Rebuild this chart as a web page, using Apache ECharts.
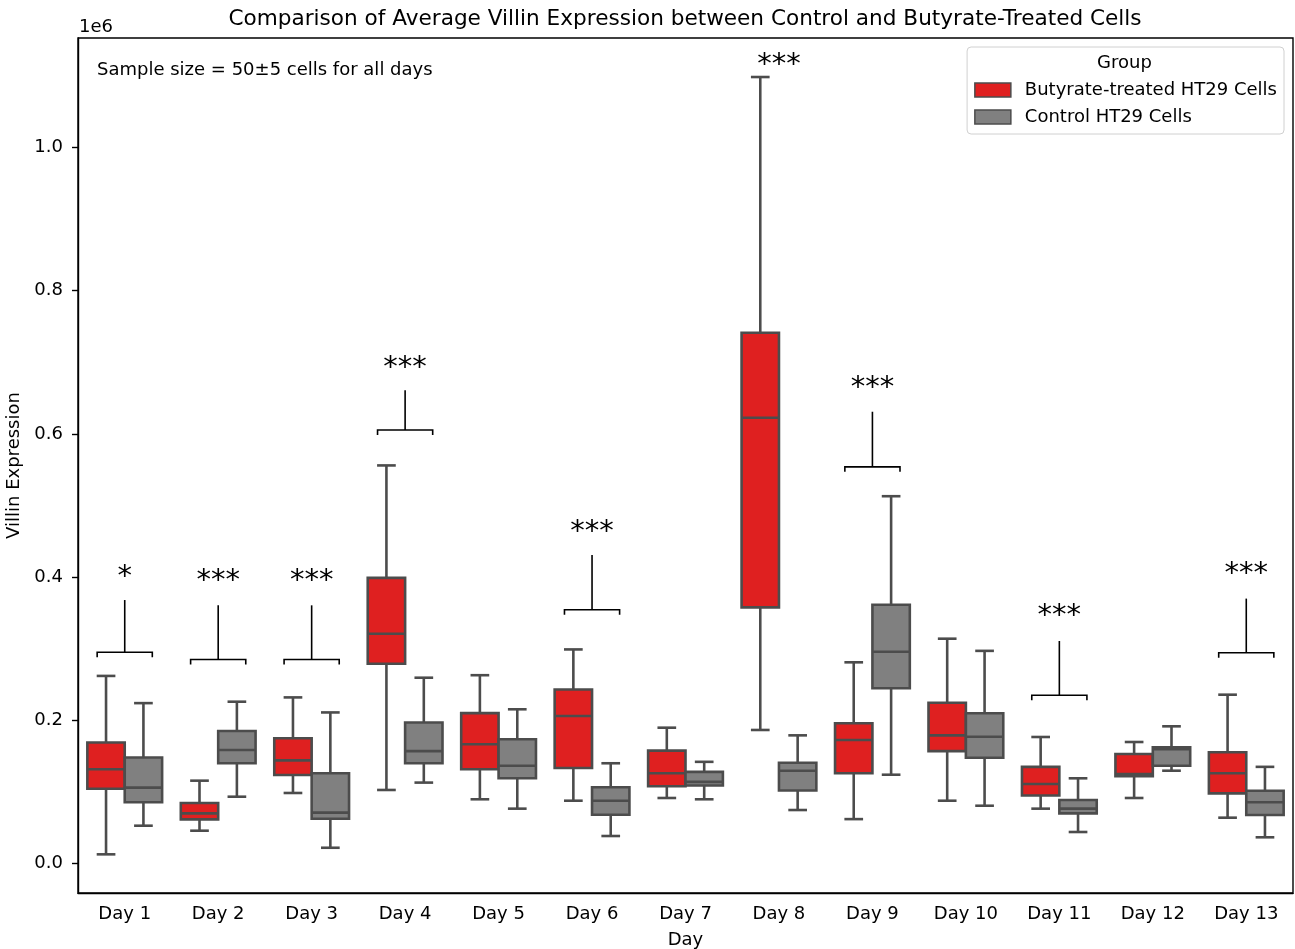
<!DOCTYPE html>
<html>
<head>
<meta charset="utf-8">
<script src="https://cdn.jsdelivr.net/npm/echarts@6/dist/echarts.min.js"></script>
<style>html,body{margin:0;padding:0;background:#fff}#c{width:1295px;height:949px}</style>
</head>
<body>
<div id="c"></div>
<script>
// ---- Data (values in units of 1e6) ----
const days = ['Day 1','Day 2','Day 3','Day 4','Day 5','Day 6','Day 7','Day 8','Day 9','Day 10','Day 11','Day 12','Day 13'];
const yTicks = [0.0, 0.2, 0.4, 0.6, 0.8, 1.0];

// Butyrate-treated HT29 Cells
const butMin = [0.0128, 0.0458, 0.0985, 0.1027, 0.0897, 0.0877, 0.0915, 0.1865, 0.062, 0.0877, 0.0766, 0.0915, 0.064];
const butQ1  = [0.1045, 0.0617, 0.1236, 0.279, 0.1316, 0.1334, 0.108, 0.3578, 0.126, 0.157, 0.095, 0.122, 0.098];
const butMed = [0.1316, 0.070, 0.144, 0.321, 0.1665, 0.206, 0.126, 0.6226, 0.1725, 0.179, 0.111, 0.125, 0.126];
const butQ3  = [0.169, 0.0845, 0.175, 0.399, 0.210, 0.243, 0.1576, 0.7413, 0.1958, 0.2246, 0.135, 0.153, 0.1553];
const butMax = [0.262, 0.1157, 0.232, 0.556, 0.263, 0.299, 0.1897, 1.0985, 0.281, 0.314, 0.1767, 0.1697, 0.2358];

// Control HT29 Cells
const ctlMin = [0.0528, 0.0933, 0.022, 0.113, 0.0766, 0.0384, 0.0897, 0.0747, 0.124, 0.0807, 0.044, 0.1296, 0.0366];
const ctlQ1  = [0.0855, 0.140, 0.0626, 0.140, 0.119, 0.068, 0.109, 0.102, 0.2447, 0.1478, 0.070, 0.1366, 0.0677];
const ctlMed = [0.106, 0.1585, 0.071, 0.157, 0.1366, 0.0877, 0.114, 0.1296, 0.2958, 0.177, 0.0766, 0.1595, 0.0855];
const ctlQ3  = [0.148, 0.185, 0.126, 0.197, 0.1735, 0.1064, 0.128, 0.1408, 0.3615, 0.2098, 0.0887, 0.1623, 0.1017];
const ctlMax = [0.224, 0.226, 0.211, 0.2595, 0.2154, 0.140, 0.142, 0.179, 0.513, 0.297, 0.119, 0.1916, 0.135];

// Significance annotations
const sigLabels  = ['*', '***', '***', '***', '', '***', '', '***', '***', '', '***', '', '***'];
const bracketY   = [0.295, 0.285, 0.285, 0.6055, null, 0.3545, null, null, 0.554, null, 0.235, null, 0.2944];
const bracketTop = [0.368, 0.3606, 0.3606, 0.661, null, 0.431, null, null, 0.631, null, 0.3108, null, 0.370];
const starY      = [0.407, 0.4005, 0.4005, 0.699, null, 0.470, null, 1.121, 0.6707, null, 0.3517, null, 0.41];

// ---- Styles ----
const FONT = 'DejaVu Sans';
const RED = '#df2020';
const GRAY = '#808080';
const EDGE = '#4c4c4c';
const LW = 2.6;

function boxData(mn, q1, md, q3, mx) {
  return days.map((d, i) => [i, mn[i], q1[i], md[i], q3[i], mx[i]]);
}

function boxRenderer(side, fill) {
  return function (params, api) {
    const i = api.value(0);
    const band = api.size([1, 0])[0];
    const cx = api.coord([i, 0])[0] + side * band * 0.2;
    const w = band * 0.4;
    const capHalf = w / 4;
    const yMin = api.coord([i, api.value(1)])[1];
    const yQ1 = api.coord([i, api.value(2)])[1];
    const yMed = api.coord([i, api.value(3)])[1];
    const yQ3 = api.coord([i, api.value(4)])[1];
    const yMax = api.coord([i, api.value(5)])[1];
    const ls = { stroke: EDGE, lineWidth: LW, fill: null };
    return {
      type: 'group',
      children: [
        { type: 'line', shape: { x1: cx, y1: yQ1, x2: cx, y2: yMin }, style: ls },
        { type: 'line', shape: { x1: cx - capHalf, y1: yMin, x2: cx + capHalf, y2: yMin }, style: ls },
        { type: 'line', shape: { x1: cx, y1: yQ3, x2: cx, y2: yMax }, style: ls },
        { type: 'line', shape: { x1: cx - capHalf, y1: yMax, x2: cx + capHalf, y2: yMax }, style: ls },
        { type: 'rect', shape: { x: cx - w / 2, y: yQ3, width: w, height: yQ1 - yQ3 }, style: { fill: fill, stroke: EDGE, lineWidth: LW } },
        { type: 'line', shape: { x1: cx - w / 2, y1: yMed, x2: cx + w / 2, y2: yMed }, style: ls }
      ]
    };
  };
}

const annData = days.map((d, i) => [i, bracketY[i], bracketTop[i], starY[i], sigLabels[i]]);

function annRenderer(params, api) {
  const i = params.dataIndex;
  const band = api.size([1, 0])[0];
  const cx = api.coord([i, 0])[0];
  const children = [];
  const bs = { stroke: '#000', lineWidth: 1.6, fill: null };
  if (bracketY[i] != null) {
    const yb = api.coord([i, bracketY[i]])[1];
    const yt = api.coord([i, bracketTop[i]])[1];
    const hw = band * 0.295;
    children.push({ type: 'polyline', shape: { points: [[cx - hw, yb + 5], [cx - hw, yb], [cx + hw, yb], [cx + hw, yb + 5]] }, style: bs });
    children.push({ type: 'line', shape: { x1: cx, y1: yb, x2: cx, y2: yt }, style: bs });
  }
  if (sigLabels[i]) {
    const ys = api.coord([i, starY[i]])[1];
    children.push({ type: 'text', x: cx, y: ys + 5, style: { text: sigLabels[i], fill: '#000', font: '29px "' + FONT + '"', align: 'center', verticalAlign: 'middle' } });
  }
  return { type: 'group', children: children };
}

const chart = echarts.init(document.getElementById('c'), null, { renderer: 'canvas' });
chart.setOption({
  animation: false,
  backgroundColor: '#fff',
  textStyle: { fontFamily: FONT },
  grid: { left: 78, right: 2, top: 38, bottom: 56, outerBoundsMode: 'none', containLabel: false, show: true, borderColor: '#000', borderWidth: 1.4, backgroundColor: 'transparent' },
  graphic: [
    { type: 'text', x: 685, y: 19, z: 100, style: { text: 'Comparison of Average Villin Expression between Control and Butyrate-Treated Cells', font: '21.6px "' + FONT + '"', fill: '#000', align: 'center', verticalAlign: 'middle' } },
    { type: 'text', x: 79, y: 27, z: 100, style: { text: '1e6', font: '18px "' + FONT + '"', fill: '#000', align: 'left', verticalAlign: 'middle' } },
    { type: 'text', x: 97, y: 70, z: 100, style: { text: 'Sample size = 50±5 cells for all days', font: '18px "' + FONT + '"', fill: '#000', align: 'left', verticalAlign: 'middle' } },
    { type: 'text', x: 1124.5, y: 63, z: 100, style: { text: 'Group', font: '18px "' + FONT + '"', fill: '#000', align: 'center', verticalAlign: 'middle' } }
  ],
  legend: {
    right: 11, top: 47, orient: 'vertical', align: 'left',
    padding: [34, 7, 8, 7], itemWidth: 36, itemHeight: 14, itemGap: 9,
    borderColor: '#d0d0d0', borderWidth: 1, borderRadius: 4, backgroundColor: 'rgba(255,255,255,0.8)',
    selectedMode: false,
    textStyle: { fontSize: 18, fontFamily: FONT, color: '#000', padding: [0, 0, 0, 9] },
    data: [
      { name: 'Butyrate-treated HT29 Cells', icon: 'rect', itemStyle: { color: RED, borderColor: EDGE, borderWidth: 1.5 } },
      { name: 'Control HT29 Cells', icon: 'rect', itemStyle: { color: GRAY, borderColor: EDGE, borderWidth: 1.5 } }
    ]
  },
  xAxis: {
    type: 'category', data: days, boundaryGap: true,
    axisLine: { onZero: false, lineStyle: { color: '#000', width: 1.4 } },
    axisTick: { alignWithLabel: true, length: 6, lineStyle: { color: '#000', width: 1.4 } },
    axisLabel: { color: '#000', fontSize: 18, fontFamily: FONT, margin: 12 },
    splitLine: { show: false },
    name: 'Day', nameLocation: 'middle', nameGap: 38,
    nameTextStyle: { color: '#000', fontSize: 18, fontFamily: FONT }
  },
  yAxis: {
    type: 'value', min: -0.0412, max: 1.153,
    axisLine: { show: true, onZero: false, lineStyle: { color: '#000', width: 1.4 } },
    axisTick: { show: true, length: 6, customValues: yTicks, lineStyle: { color: '#000', width: 1.4 } },
    axisLabel: { customValues: yTicks, formatter: v => v.toFixed(1), color: '#000', fontSize: 18, fontFamily: FONT, margin: 15 },
    splitLine: { show: false },
    name: 'Villin Expression', nameLocation: 'middle', nameRotate: 90, nameGap: 48,
    nameTextStyle: { color: '#000', fontSize: 18, fontFamily: FONT }
  },
  series: [
    { name: 'Butyrate-treated HT29 Cells', type: 'custom', itemStyle: { color: RED }, renderItem: boxRenderer(-1, RED), encode: { x: 0, y: [1, 2, 3, 4, 5] }, data: boxData(butMin, butQ1, butMed, butQ3, butMax), z: 3 },
    { name: 'Control HT29 Cells', type: 'custom', itemStyle: { color: GRAY }, renderItem: boxRenderer(1, GRAY), encode: { x: 0, y: [1, 2, 3, 4, 5] }, data: boxData(ctlMin, ctlQ1, ctlMed, ctlQ3, ctlMax), z: 3 },
    { name: 'annotations', type: 'custom', renderItem: annRenderer, encode: { x: 0, y: [1, 2, 3] }, data: annData, z: 4, silent: true }
  ]
});
</script>
</body>
</html>
